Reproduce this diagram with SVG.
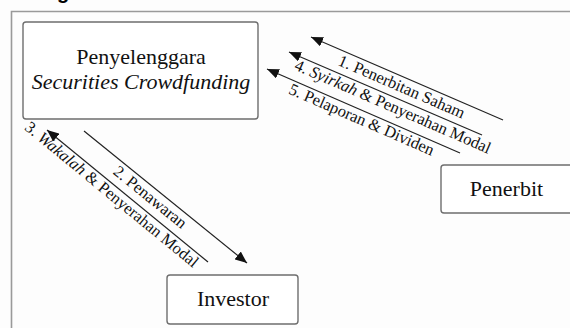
<svg xmlns="http://www.w3.org/2000/svg" width="570" height="328" viewBox="0 0 570 328">
<style>
.frame{fill:none;stroke:#9a9a9a;stroke-width:1.6}
.box{fill:#ffffff;stroke:#6e6e6e;stroke-width:1.4}
.node{font-family:"Liberation Serif","Times New Roman",serif;font-size:22px;fill:#111;text-anchor:middle}
.lbl{font-family:"Liberation Serif","Times New Roman",serif;font-size:16.5px;fill:#111;text-anchor:middle}
.conn{stroke:#222;stroke-width:1.2;fill:none;marker-end:url(#ah)}
.it{font-style:italic}
</style>
<defs>
<marker id="ah" viewBox="0 0 12 10" refX="12" refY="5" markerWidth="12" markerHeight="10" markerUnits="userSpaceOnUse" orient="auto">
<path d="M0,0 L12,5 L0,10 z" fill="#111"/>
</marker>
</defs>
<rect width="570" height="328" fill="#fdfdfd"/>
<text x="57" y="-1" font-family="Liberation Sans, Arial, sans-serif" font-weight="bold" font-size="20" fill="#000">g</text>
<path class="frame" d="M11.5,328 V11.5 H570"/>
<g id="penyelenggara">
<rect class="box" x="23" y="22" width="235" height="97" rx="3"/>
<text class="node" x="141" y="64">Penyelenggara</text>
<text class="node it" x="141" y="89">Securities Crowdfunding</text>
</g>
<g id="penerbit">
<rect class="box" x="441" y="165" width="140" height="48" rx="3"/>
<text class="node" x="506.5" y="196">Penerbit</text>
</g>
<g id="investor">
<rect class="box" x="167" y="275" width="131" height="49" rx="3"/>
<text class="node" x="233" y="306">Investor</text>
</g>
<g id="connectors">
<path class="conn" d="M503,120 L311,37"/>
<path class="conn" d="M482,135 L289,52"/>
<path class="conn" d="M460,153 L267,69"/>
<path class="conn" d="M84,131 L247,263"/>
<path class="conn" d="M208,262 L47,130"/>
<text class="lbl" transform="translate(311,37) rotate(23.4)" x="103" y="15">1. Penerbitan Saham</text>
<text class="lbl" transform="translate(289,52) rotate(23.5)" x="117" y="14">4. <tspan class="it">Syirkah</tspan> &amp; Penyerahan Modal</text>
<text class="lbl" transform="translate(267,69) rotate(23.5)" x="107" y="14">5. Pelaporan &amp; Dividen</text>
<text class="lbl" transform="translate(84,131) rotate(39)" x="93" y="15">2. Penawaran</text>
<text class="lbl" transform="translate(47,130) rotate(39.4)" x="91" y="14">3. <tspan class="it">Wakalah</tspan> &amp; Penyerahan Modal</text>
</g>
</svg>
